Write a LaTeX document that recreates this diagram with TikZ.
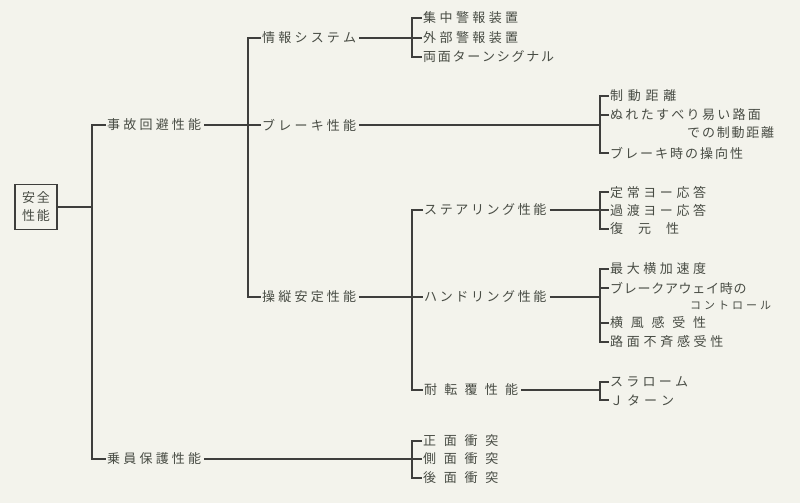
\documentclass[tikz,border=0pt]{standalone}
\usepackage{fontspec}
\newfontfamily\jp{Noto Sans CJK JP}
\usetikzlibrary{positioning,calc}
\definecolor{paper}{RGB}{243,243,236}
\definecolor{ink}{RGB}{62,62,60}
\definecolor{txt}{RGB}{72,76,68}
\newlength\chsep
\newcommand\spc[2][3pt]{\setlength\chsep{#1}\spcaux#2\relax}
\def\spcaux#1#2{#1\ifx\relax#2\else\kern\chsep\expandafter\spcaux\expandafter#2\fi}

\begin{document}
\begin{tikzpicture}[x=1pt,y=-1pt,
  lbl/.style={anchor=west,inner sep=1pt,text=txt,font=\jp\fontsize{13}{15}\selectfont},
  sml/.style={lbl,font=\jp\fontsize{11}{13}\selectfont},
  ln/.style={draw=ink,line width=1.2pt}]
\fill[paper] (0,0) rectangle (800,503);
% root
\node[draw=ink,line width=1.1pt,text=txt,font=\jp\fontsize{13}{18}\selectfont,
  align=center,minimum width=42pt,minimum height=45pt,inner sep=0pt]
  (root) at (36,207) {\spc[2pt]{安全}\\\spc[2pt]{性能}};
\coordinate (b1) at (92,207);
\node[lbl] (avoid) at (106,125) {\spc[3.2pt]{事故回避性能}};
\node[lbl] (protect) at (106,459) {\spc[3.2pt]{乗員保護性能}};
\draw[ln] (root.east) -- (b1);
\draw[ln] (avoid.west) -| (b1) |- (protect.west);
% accident avoidance
\coordinate (b2) at (248,125);
\node[lbl] (info) at (261,38) {\spc[3.2pt]{情報システム}};
\node[lbl] (brake) at (261,125) {\spc[3.2pt]{ブレーキ性能}};
\node[lbl] (stab) at (261,297) {\spc[3.2pt]{操縦安定性能}};
\draw[ln,shorten <=2pt] (avoid.east) -- (brake.west);
\draw[ln] (info.west) -| (b2) |- (stab.west);
% information system
\coordinate (b3) at (412,38);
\node[lbl] (alarmc) at (422,18) {\spc[3.4pt]{集中警報装置}};
\node[lbl] (alarmx) at (422,38) {\spc[3.4pt]{外部警報装置}};
\node[lbl] (turn) at (422,57) {\spc[1.75pt]{両面ターンシグナル}};
\draw[ln,shorten <=2pt] (info.east) -- (alarmx.west);
\draw[ln] (alarmc.west) -| (b3) |- (turn.west);
% brake
\coordinate (b4) at (600,125);
\node[lbl] (dist) at (609,96) {\spc[4.7pt]{制動距離}};
\node[lbl] (wet) at (609,115) {\spc[2.3pt]{ぬれたすべり易い路面}};
\node[lbl] (wet2) at (686,133) {\spc[1.8pt]{での制動距離}};
\node[lbl] (bsteer) at (609,153) {\spc[2pt]{ブレーキ時の操向性}};
\draw[ln,shorten <=2pt] (brake.east) -- (b4);
\draw[ln] (dist.west) -| (b4) |- (bsteer.west);
\draw[ln] (wet.west) -- (wet.west -| b4);
% stability
\coordinate (b5) at (412,297);
\node[lbl] (steer) at (423,210) {\spc[2.6pt]{ステアリング性能}};
\node[lbl] (handl) at (423,297) {\spc[2.6pt]{ハンドリング性能}};
\node[lbl] (roll) at (423,390) {\spc[7.25pt]{耐転覆性能}};
\draw[ln,shorten <=2pt] (stab.east) -- (handl.west);
\draw[ln] (steer.west) -| (b5) |- (roll.west);
% steering
\coordinate (b6) at (600,210);
\node[lbl] (yaws) at (609,192) {\spc[3.6pt]{定常ヨー応答}};
\node[lbl] (yawt) at (609,210) {\spc[3.6pt]{過渡ヨー応答}};
\node[lbl] (restore) at (609,229) {\spc[1pt]{復　元　性}};
\draw[ln,shorten <=2pt] (steer.east) -- (yawt.west);
\draw[ln] (yaws.west) -| (b6) |- (restore.west);
% handling
\coordinate (b7) at (600,297);
\node[lbl] (latacc) at (609,269) {\spc[3.6pt]{最大横加速度}};
\node[lbl] (away) at (609,288) {\spc[0.7pt]{ブレークアウェイ時の}};
\node[sml] (away2) at (689,305) {\spc[3pt]{コントロール}};
\node[lbl] (wind) at (609,323) {\spc[7.75pt]{横風感受性}};
\node[lbl] (road) at (609,342) {\spc[3.7pt]{路面不斉感受性}};
\draw[ln,shorten <=2pt] (handl.east) -- (b7);
\draw[ln] (latacc.west) -| (b7) |- (road.west);
\draw[ln] (away.west) -- (away.west -| b7);
\draw[ln] (wind.west) -- (wind.west -| b7);
% rollover
\coordinate (b8) at (600,390);
\node[lbl] (slalom) at (609,382) {\spc[3.25pt]{スラローム}};
\node[lbl] (jturn) at (609,400) {\spc[4pt]{Ｊターン}};
\draw[ln,shorten <=2pt] (roll.east) -- (b8);
\draw[ln] (slalom.west) -| (b8) |- (jturn.west);
% occupant protection
\coordinate (b9) at (412,459);
\node[lbl] (front) at (422,441) {\spc[7.7pt]{正面衝突}};
\node[lbl] (side) at (422,459) {\spc[7.7pt]{側面衝突}};
\node[lbl] (rear) at (422,478) {\spc[7.7pt]{後面衝突}};
\draw[ln,shorten <=2pt] (protect.east) -- (side.west);
\draw[ln] (front.west) -| (b9) |- (rear.west);
\end{tikzpicture}
\end{document}
